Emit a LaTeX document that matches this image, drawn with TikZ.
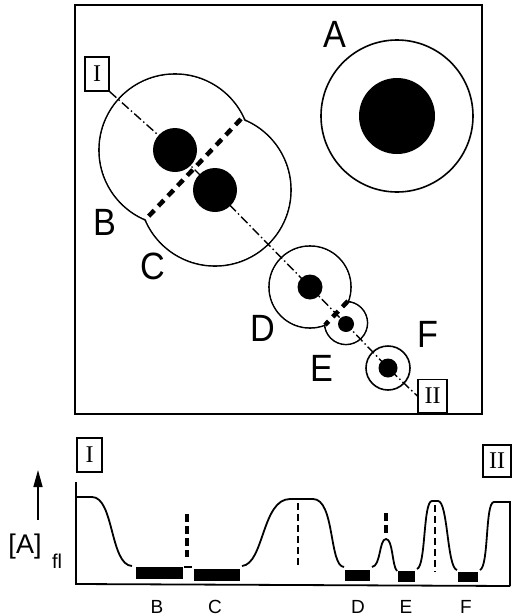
\documentclass[tikz,border=0pt]{standalone}
\usepackage{fontspec}
\setmainfont{Liberation Sans}
\newfontfamily\romf{Liberation Serif}
\newfontfamily\labf[FakeStretch=0.9]{Liberation Sans}
\usetikzlibrary{arrows.meta}
\begin{document}
\begin{tikzpicture}[x=1pt,y=-1pt,
 big/.style={font=\labf\fontsize{38}{38}\selectfont, inner sep=0},
 small/.style={font=\fontsize{19}{19}\selectfont, inner sep=0},
 rbox/.style={draw, line width=1.3pt, inner sep=0, font=\romf\fontsize{24}{24}\selectfont, minimum height=33pt},
 outl/.style={line width=1.6pt},
 dd/.style={line width=1.4pt, dash pattern=on 9pt off 3pt on 1.5pt off 3pt},
 thickdash/.style={line width=4.5pt, dash pattern=on 8pt off 6pt},
 thindash/.style={line width=1.5pt, dash pattern=on 7pt off 4pt},
 bar/.style={fill=black},
 crv/.style={line width=1.8pt}
]
\useasboundingbox (0,0) rectangle (512,616);
% top frame
\draw[line width=2pt] (75,5) rectangle (482,414);
% centres
\coordinate (cA) at (397,116);
\coordinate (cB) at (175,150);
\coordinate (cC) at (215,190);
\coordinate (cD) at (310,287);
\coordinate (cE) at (346,324);
\coordinate (cF) at (388,368);
% outlines
\draw[outl] (cA) circle[radius=76pt];
\draw[outl] (cB) circle[radius=76pt];
\draw[outl] (cC) circle[radius=76pt];
\fill[white] (cB) circle[radius=75.1pt];
\fill[white] (cC) circle[radius=75.1pt];
\draw[outl] (cD) circle[radius=41pt];
\draw[outl] (346,323) circle[radius=21.5pt];
\fill[white] (cD) circle[radius=40.1pt];
\fill[white] (346,323) circle[radius=20.6pt];
\draw[outl] (cF) circle[radius=22pt];
% boxes
\node[rbox, minimum width=24pt, minimum height=34pt] (I1) at (97,74) {I};
\node[rbox, minimum width=29pt] (II1) at (432.5,396) {II};
% dash-dot line
\draw[dd] (I1.south east) -- (cB) -- (cC) -- (cD) -- (cE) -- (cF) -- (II1.west);
% dots
\fill (cA) circle[radius=38pt];
\fill (cB) circle[radius=22pt];
\fill (cC) circle[radius=22pt];
\fill (cD) circle[radius=12.5pt];
\fill (cE) circle[radius=8pt];
\fill (cF) circle[radius=9.5pt];
% separating dashed lines
\coordinate (n1) at (241,119);
\coordinate (n2) at (146,219);
\coordinate (n3) at (348,301);
\coordinate (n4) at (325,325);
\draw[thickdash] (n1) -- (n2);
\draw[thickdash] (n3) -- (n4);
% labels
\node[big] (lA) at (335,34) {A};
\node[big] (lB) at (105,222) {B};
\node[big] (lC) at (153,266) {C};
\node[big] (lD) at (263,328) {D};
\node[big] (lE) at (322,368) {E};
\node[big] (lF) at (428,334) {F};
% ---- bottom graph ----
\node[rbox, minimum width=25pt, minimum height=34pt] (I2) at (89.5,455) {I};
\node[rbox, minimum width=28pt, minimum height=32pt] (II2) at (497,461) {II};
\coordinate (o) at (76,584);
\coordinate (ytop) at (76,482);
\coordinate (xend) at (510,586);
\draw[line width=1.8pt] (ytop) -- (o) -- (xend);
\draw[crv] (76,497) -- (92,497) .. controls (114,497) and (110,565) .. (132,566);
\draw[line width=1.2pt] (184,567) -- (192,567);
\draw[crv] (242,566) .. controls (264,564) and (262,499) .. (290,499) -- (313,499)
  .. controls (335,499) and (329,566) .. (344,567);
\draw[crv] (372,567) .. controls (381,566) and (379,539) .. (386,539)
  .. controls (393,539) and (392,566) .. (397,571);
\draw[crv] (417,569) .. controls (426,566) and (423,501) .. (432,501) -- (438,501)
  .. controls (448,501) and (447,568) .. (457,570);
\draw[crv] (480,570) .. controls (489,566) and (485,502) .. (494,502) -- (510,502) -- (510,586);
% bars
\fill[bar] (136,567) rectangle (183,579);
\fill[bar] (194,569) rectangle (240,581);
\fill[bar] (345,570) rectangle (370,581);
\fill[bar] (398,571) rectangle (415,582);
\fill[bar] (458,572) rectangle (478,582);
% vertical dashes
\draw[thickdash, dash pattern=on 8pt off 4pt] (187,514) -- (187,557);
\draw[thickdash, dash pattern=on 8pt off 4pt] (386,513) -- (386,533);
\draw[thindash] (298,503) -- (298,568);
\draw[thindash] (435,505) -- (435,572);
% axis label
\coordinate (ab) at (38,520);
\coordinate (at) at (38,470);
\draw[line width=1.5pt, -{Triangle[length=17pt,width=9pt]}] (ab) -- (at);
\node[inner sep=0, font=\fontsize{27}{27}\selectfont] (lab) at (25,547) {[A]};
\node[inner sep=0, font=\fontsize{20}{20}\selectfont] (fl) at (57,561) {fl};
% bottom letters
\node[small] (bB) at (157,607) {B};
\node[small] (bC) at (215,607) {C};
\node[small] (bD) at (358,607) {D};
\node[small] (bE) at (406,607) {E};
\node[small] (bF) at (466,607) {F};
\end{tikzpicture}
\end{document}
